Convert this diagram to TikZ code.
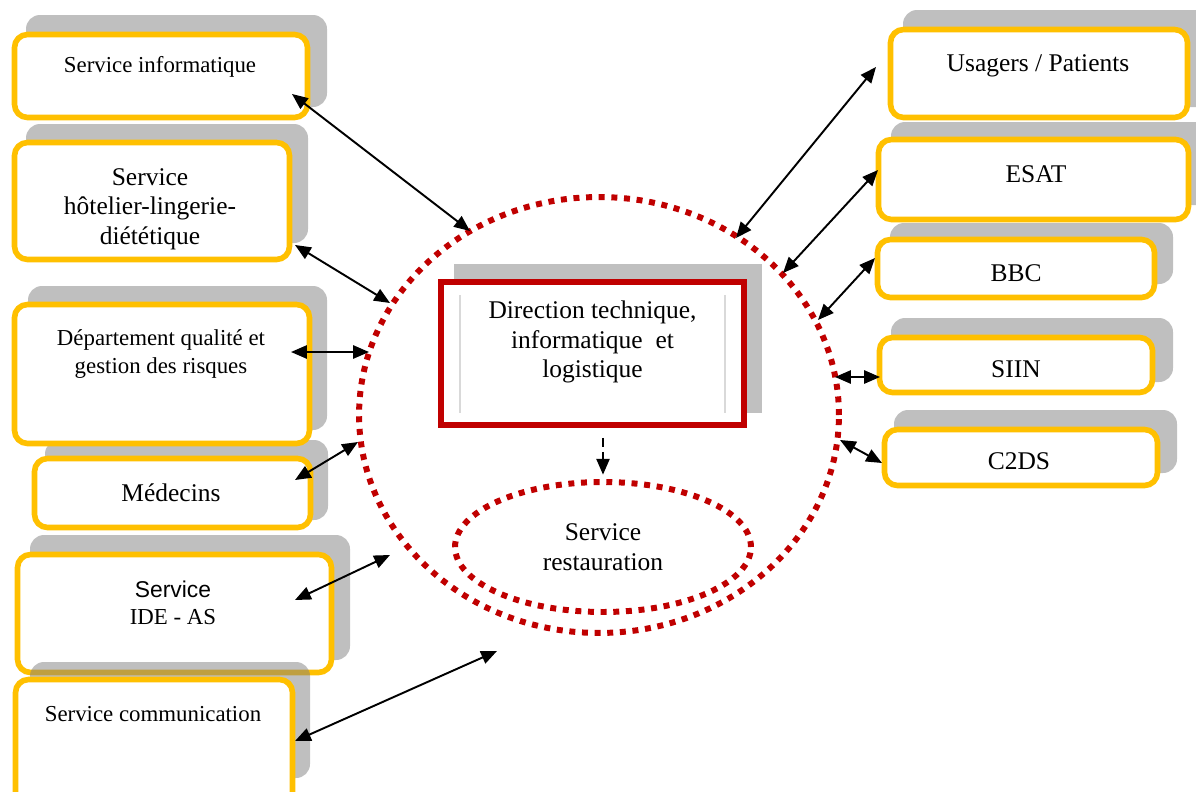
\documentclass[tikz,border=0pt]{standalone}
\usepackage{fontspec}
\setmainfont{Liberation Serif}
\newfontfamily\arialfont{Liberation Sans}
\usetikzlibrary{arrows.meta,shapes.geometric,positioning}
\definecolor{boxyellow}{HTML}{FFC000}
\definecolor{dirred}{HTML}{C00000}
\definecolor{rulegray}{HTML}{D9D9D9}
\definecolor{shadowgray}{HTML}{C0C0C0}

\begin{document}
\begin{tikzpicture}[x=0.02cm, y=-0.02cm,
    ybox/.style={draw=boxyellow, line width=3.2pt, rounded corners=0.26cm, fill=white, inner sep=0pt},
    shadowbox/.style={fill=gray, fill opacity=0.5, rounded corners=0.28cm},
    lbl/.style={align=center, inner sep=0pt, font=\fontsize{14.5}{16.8}\selectfont},
    lblsmall/.style={align=center, inner sep=0pt, font=\fontsize{13}{15.4}\selectfont},
    dotred/.style={draw=dirred, line width=3.4pt, dash pattern=on 3.4pt off 3.8pt},
    link/.style={line width=1.1pt, {Triangle[length=9pt,width=7.5pt]}-{Triangle[length=9pt,width=7.5pt]}}]
    \clip (0,0) rectangle (1196,791);

    % Left services
    \fill[shadowbox] (26,15) rectangle (327,107);
    \node[ybox, minimum width=5.86cm, minimum height=1.66cm] (info) at (161,76) {};
    \node[lblsmall] (infotxt) at (160,67) {Service informatique};

    \fill[shadowbox] (26,124) rectangle (308,243);
    \node[ybox, minimum width=5.5cm, minimum height=2.34cm] (hotel) at (152,201) {};
    \node[lbl] (hoteltxt) at (150,209) {Service\\hôtelier-lingerie-\\diététique};

    \fill[shadowbox] (28,286) rectangle (327,430);
    \fill[shadowbox] (45,440) rectangle (328,520);
    \node[ybox, minimum width=5.9cm, minimum height=2.78cm] (qual) at (162,374) {};
    \node[lblsmall] (qualtxt) at (161,354) {Département qualité et\\gestion des risques};

    \node[ybox, minimum width=5.52cm, minimum height=1.38cm] (med) at (172.5,493) {};
    \node[lbl] (medtxt) at (171,493) {Médecins};

    \fill[shadowbox] (30,535) rectangle (350,660);
    \node[ybox, minimum width=6.28cm, minimum height=2.36cm] (ide) at (174.5,613.5) {};
    \node[lblsmall] (idetxt) at (173,603) {{\arialfont Service}\\IDE - AS};

    \fill[shadowbox] (30,662) rectangle (310,778);
    \node[ybox, minimum width=5.54cm, minimum height=2.61cm] (comm) at (154,744.75) {};
    \node[lblsmall] (commtxt) at (153,714) {Service communication};

    % Right partners
    \fill[shadowbox] (903,10) rectangle (1215,107);
    \node[ybox, minimum width=5.94cm, minimum height=1.76cm] (usag) at (1039,73.5) {};
    \node[lbl] (usagtxt) at (1038,66) {Usagers / Patients};

    \fill[shadowbox] (891,122) rectangle (1215,205);
    \node[ybox, minimum width=6.2cm, minimum height=1.6cm] (esat) at (1033.5,179.5) {};
    \node[lbl] (esattxt) at (1036,174) {ESAT};

    \fill[shadowbox] (890,223) rectangle (1173,284);
    \node[ybox, minimum width=5.54cm, minimum height=1.16cm] (bbc) at (1016,268.5) {};
    \node[lbl] (bbctxt) at (1016,273) {BBC};

    \fill[shadowbox] (891,318) rectangle (1173,382);
    \node[ybox, minimum width=5.46cm, minimum height=1.1cm] (siin) at (1016,365) {};
    \node[lbl] (siintxt) at (1016,369) {SIIN};

    \fill[shadowbox] (894,410) rectangle (1177,473);
    \node[ybox, minimum width=5.46cm, minimum height=1.12cm] (c2ds) at (1021,457.5) {};
    \node[lbl] (c2dstxt) at (1019,461) {C2DS};

    % Direction
    \node[ellipse, dotred, minimum width=9.6cm, minimum height=8.72cm, inner sep=0pt] (dircircle) at (599,415) {};
    \fill[shadowgray] (454,264) rectangle (762,413);
    \node[draw=dirred, line width=3.6pt, fill=white, minimum width=6.06cm, minimum height=2.86cm, inner sep=0pt] (dirbox) at (592.5,353.5) {};
    \draw[rulegray, line width=0.8pt] (460,295) -- (460,413);
    \draw[rulegray, line width=0.8pt] (725,295) -- (725,413);
    \node[lbl] (dirtxt) at (592.5,342) {Direction technique,\\informatique~ et\\logistique};
    \node[ellipse, dotred, lbl, minimum width=5.92cm, minimum height=2.6cm] (rest) at (603,547) {Service\\restauration};
    \draw[line width=1.1pt, dash pattern=on 5pt off 3pt, -{Triangle[length=9pt,width=7.5pt]}, shorten <=5.5pt, shorten >=2.5pt] (dirbox.south -| rest.north) -- (rest.north);

    % Link ends
    \coordinate (infoA) at (292,94);   \coordinate (infoB) at (470,231);
    \coordinate (hotelA) at (295,245); \coordinate (hotelB) at (390,303);
    \coordinate (qualA) at (291,352);  \coordinate (qualB) at (369,352);
    \coordinate (medA) at (295,480);   \coordinate (medB) at (358,442);
    \coordinate (ideA) at (295,600);   \coordinate (ideB) at (390,555);
    \coordinate (commA) at (295,741);  \coordinate (commB) at (497,651);
    \coordinate (usagA) at (876,67);   \coordinate (usagB) at (736,238);
    \coordinate (esatA) at (878,170);  \coordinate (esatB) at (783,273);
    \coordinate (bbcA) at (875,258);   \coordinate (bbcB) at (818,320);
    \coordinate (siinA) at (880,377);  \coordinate (siinB) at (835,377);
    \coordinate (c2dsA) at (882,463);  \coordinate (c2dsB) at (840,440);

    % Links
    \foreach \s in {info,hotel,qual,med,ide,comm,usag,esat,bbc,siin,c2ds}
        \draw[link] (\s A) -- (\s B);
\end{tikzpicture}
\end{document}
